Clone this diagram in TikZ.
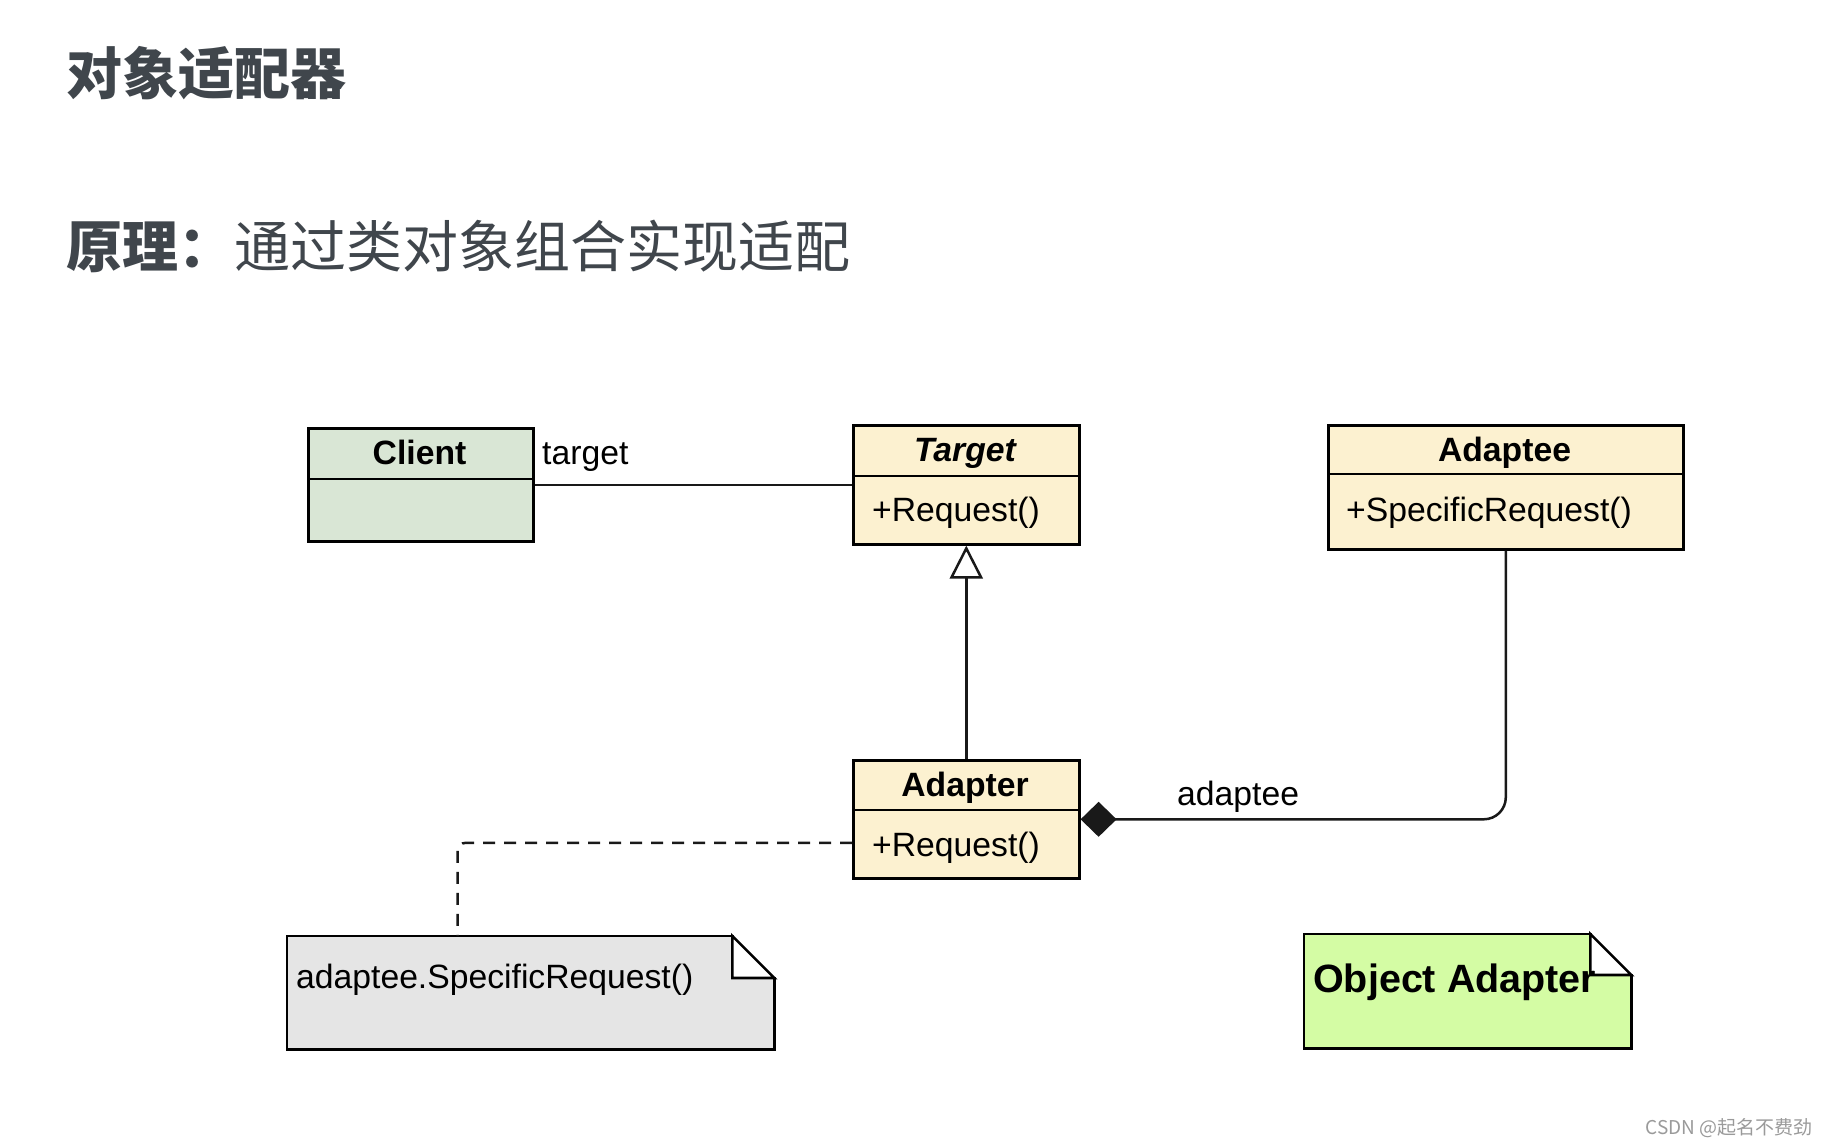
\documentclass[tikz,border=0pt]{standalone}
\usepackage{fontspec}
\setmainfont{Liberation Sans}
\newfontfamily\cjk{Noto Sans CJK SC}
\usetikzlibrary{arrows.meta,calc}
\definecolor{titlegray}{HTML}{40464C}
\definecolor{clientfill}{HTML}{D9E6D5}
\definecolor{classfill}{HTML}{FCF1D0}
\definecolor{notegray}{HTML}{E5E5E5}
\definecolor{notegreen}{HTML}{D4FCA4}
\definecolor{wmgray}{HTML}{9A9A9A}
\begin{document}
\begin{tikzpicture}[x=1pt,y=-1pt,
  umlreg/.style={font=\fontsize{33.7}{40}\selectfont},
  umlbold/.style={font=\fontsize{33.7}{40}\selectfont\bfseries},
  classbox/.style={draw=black, line width=2.6pt, fill=classfill, inner sep=0pt, anchor=north west},
  notebox/.style={inner sep=0pt, anchor=north west},
  outline/.style={draw=black, line width=2.6pt, line join=miter},
  divline/.style={draw=black, line width=2.4pt},
  txt/.style={inner sep=0pt, text=black, anchor=base west},
  ctxt/.style={inner sep=0pt, text=black, anchor=base},
  conn/.style={draw=black!90, line width=2.5pt},
  cjktitle/.style={inner sep=0pt, anchor=base west, text=titlegray}
]
\fill[white] (0,0) rectangle (1828,1146);
\useasboundingbox (0,0) rectangle (1828,1146);

% titles
\node[cjktitle, font=\cjk\bfseries\fontsize{56}{60}\selectfont] (title) at (66,94) {对象适配器};
\node[cjktitle, font=\cjk\fontsize{56}{60}\selectfont] (principle) at (66,267) {\textbf{原理：}通过类对象组合实现适配};

% Client
\node[classbox, fill=clientfill, minimum width=225pt, minimum height=113pt] (client) at (307,427) {};
\draw[divline] (client.west |- 0,479) -- (client.east |- 0,479);
\node[ctxt, umlbold] (clientname) at (419.5,464) {Client};

% Target
\node[classbox, minimum width=226pt, minimum height=119pt] (target) at (852,424) {};
\draw[divline] (target.west |- 0,476) -- (target.east |- 0,476);
\node[ctxt, font=\fontsize{33.7}{40}\selectfont\bfseries\itshape] (targetname) at (965,461) {Target};
\node[txt, umlreg] (targetop) at (872,521) {+Request()};

% Adaptee
\node[classbox, minimum width=355pt, minimum height=124pt] (adaptee) at (1327,424) {};
\draw[divline] (adaptee.west |- 0,474) -- (adaptee.east |- 0,474);
\node[ctxt, umlbold] (adapteename) at (1504.5,461) {Adaptee};
\node[txt, umlreg] (adapteeop) at (1346,521) {+SpecificRequest()};

% Adapter
\node[classbox, minimum width=226pt, minimum height=118pt] (adapter) at (852,759) {};
\draw[divline] (adapter.west |- 0,810) -- (adapter.east |- 0,810);
\node[ctxt, umlbold] (adaptername) at (965,796) {Adapter};
\node[txt, umlreg] (adapterop) at (872,856) {+Request()};

% Note 1
\node[notebox, minimum width=487pt, minimum height=113pt] (note1) at (287,936) {};
\path[outline, fill=notegray] (note1.north west) -- ($(note1.north east)+(-42,0)$) -- ($(note1.north east)+(-42,42)$) -- ($(note1.north east)+(0,42)$) -- (note1.south east) -- (note1.south west) -- cycle;
\path[outline, fill=white] ($(note1.north east)+(-42,0)$) -- ($(note1.north east)+(0,42)$) -- ($(note1.north east)+(-42,42)$) -- cycle;
\node[txt, umlreg] (note1text) at (296,988) {adaptee.SpecificRequest()};

% Note 2
\node[notebox, minimum width=327pt, minimum height=114pt] (note2) at (1304,934) {};
\path[outline, fill=notegreen] (note2.north west) -- ($(note2.north east)+(-41,0)$) -- ($(note2.north east)+(-41,41)$) -- ($(note2.north east)+(0,41)$) -- (note2.south east) -- (note2.south west) -- cycle;
\path[outline, fill=white] ($(note2.north east)+(-41,0)$) -- ($(note2.north east)+(0,41)$) -- ($(note2.north east)+(-41,41)$) -- cycle;
\node[txt, font=\fontsize{39.5}{46}\selectfont\bfseries] (note2text) at (1313,992) {Object Adapter};

% connectors
\draw[conn] (client.east) -- (target.west);
\node[txt, umlreg] (targetlabel) at (542,464) {target};

\draw[conn, -{Triangle[open, length=33pt, width=33pt, fill=white]}] (adapter.north) -- (target.south);

\draw[conn, {Diamond[length=36pt, width=35pt]}-, rounded corners=22pt] (adapter.east) -| (adaptee.south);
\node[txt, umlreg] (adapteelabel) at (1177,805) {adaptee};

\draw[conn, dash pattern=on 12pt off 9pt, rounded corners=8pt]
  ($(adapter.west)!0.39!(adapter.south west)$) -| ($(note1.north west)!0.35!(note1.north east)$);

% watermark
\node[inner sep=0pt, anchor=east, text=wmgray, font=\cjk\fontsize{19}{22}\selectfont] (wm) at (1813,1128) {CSDN @起名不费劲};
\end{tikzpicture}
\end{document}
